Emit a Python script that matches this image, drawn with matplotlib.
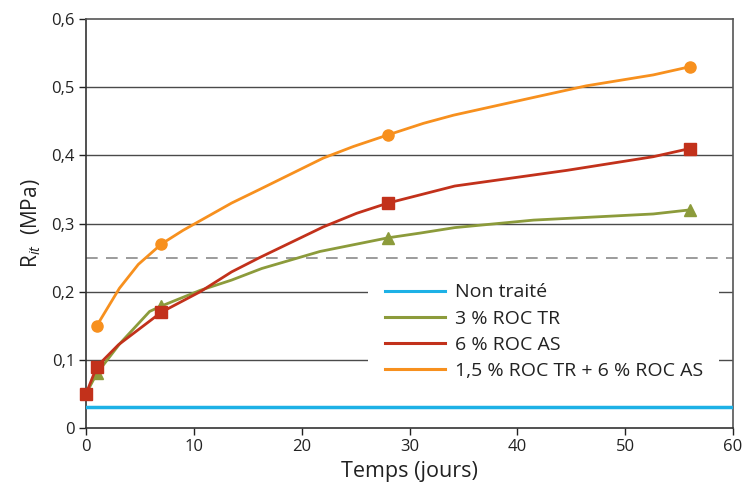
import matplotlib
matplotlib.use("Agg")
import matplotlib.pyplot as plt
from matplotlib.lines import Line2D

plt.rcParams['font.family'] = ['Open Sans', 'DejaVu Sans']
plt.rcParams['mathtext.fontset'] = 'custom'
plt.rcParams['mathtext.rm'] = 'Open Sans'
plt.rcParams['mathtext.it'] = 'Open Sans:italic'

# Data
labels = ["Non traité", "3 % ROC TR", "6 % ROC AS", "1,5 % ROC TR + 6 % ROC AS"]
untreated_days = [0, 60]
untreated_vals = [0.031, 0.031]

tr3_days = [0, 1, 3.15, 5.9, 7, 10.6, 13.5, 16.3, 21.7, 28, 31, 34.2, 41.5, 52.6, 56]
tr3_vals = [0.05, 0.08, 0.124, 0.171, 0.179, 0.202, 0.217, 0.234, 0.259, 0.279, 0.286, 0.294, 0.305, 0.314, 0.32]
tr3_mark_days = [1, 7, 28, 56]
tr3_mark_vals = [0.08, 0.179, 0.279, 0.32]

as6_days = [0, 1, 3, 7, 10.6, 13.5, 16.1, 22, 25.1, 28, 34.2, 44.6, 52.6, 56]
as6_vals = [0.05, 0.09, 0.122, 0.17, 0.2, 0.229, 0.25, 0.295, 0.315, 0.33, 0.355, 0.378, 0.398, 0.41]
as6_mark_days = [0, 1, 7, 28, 56]
as6_mark_vals = [0.05, 0.09, 0.17, 0.33, 0.41]

mix_days = [1, 3.1, 4.85, 7, 9, 13.5, 16.1, 22, 24.8, 28, 31.3, 34.1, 41.8, 46.4, 52.6, 56]
mix_vals = [0.15, 0.205, 0.24, 0.27, 0.29, 0.33, 0.35, 0.396, 0.413, 0.43, 0.447, 0.459, 0.486, 0.502, 0.518, 0.53]
mix_mark_days = [1, 7, 28, 56]
mix_mark_vals = [0.15, 0.27, 0.43, 0.53]

threshold = 0.25
yticks = [0, 0.1, 0.2, 0.3, 0.4, 0.5, 0.6]
ytick_labels = ["0", "0,1", "0,2", "0,3", "0,4", "0,5", "0,6"]
xticks = [0, 10, 20, 30, 40, 50, 60]

c_blue = "#1db1e6"
c_green = "#8c9b3b"
c_red = "#c2311b"
c_orange = "#f7901e"

fig = plt.figure(figsize=(7.42, 4.84), dpi=100)
ax = fig.add_axes([0.1159, 0.1157, 0.872, 0.845])

for y in yticks[1:-1]:
    ax.axhline(y, color="#4a4a4a", lw=1.0, zorder=1)
ax.axhline(threshold, color="#8a8a8a", lw=1.2, dashes=(7, 5), zorder=1)

ax.plot(untreated_days, untreated_vals, color=c_blue, lw=2.5, zorder=3)
ax.plot(tr3_days, tr3_vals, color=c_green, lw=2, zorder=4)
ax.plot(tr3_mark_days, tr3_mark_vals, ls="none", marker="^", ms=8, color=c_green, zorder=4, clip_on=False)
ax.plot(as6_days, as6_vals, color=c_red, lw=2, zorder=5)
ax.plot(as6_mark_days, as6_mark_vals, ls="none", marker="s", ms=8, color=c_red, zorder=5, clip_on=False)
ax.plot(mix_days, mix_vals, color=c_orange, lw=2, zorder=6)
ax.plot(mix_mark_days, mix_mark_vals, ls="none", marker="o", ms=8, color=c_orange, zorder=6, clip_on=False)

ax.set_xlim(0, 60)
ax.set_ylim(0, 0.6)
ax.set_xticks(xticks)
ax.set_yticks(yticks)
ax.set_yticklabels(ytick_labels)
ax.tick_params(axis="both", direction="out", length=5, width=1, labelsize=12, colors="#222222", pad=3)
for s in ax.spines.values():
    s.set_color("#333333")
    s.set_linewidth(1.2)
ax.spines["top"].set_color("#555555")
ax.spines["right"].set_color("#555555")

ax.set_xlabel("Temps (jours)", fontsize=15.5, color="#222222", labelpad=4)
ax.set_ylabel(r"R$_{\mathit{it}}$  (MPa)", fontsize=15, color="#222222", labelpad=6)

handles = [Line2D([], [], color=c, lw=2.2) for c in (c_blue, c_green, c_red, c_orange)]
leg = ax.legend(handles, labels, loc="upper left", bbox_to_anchor=(0.436, 0.394),
                frameon=True, fontsize=14, handlelength=3.1, handletextpad=0.5,
                labelspacing=0.42, borderpad=0.85, borderaxespad=0)
leg.get_frame().set_facecolor("white")
leg.get_frame().set_edgecolor("none")
leg.get_frame().set_alpha(1)
leg.set_zorder(2)
for t in leg.get_texts():
    t.set_color("#222222")

fig.savefig("out.png", dpi=100)
